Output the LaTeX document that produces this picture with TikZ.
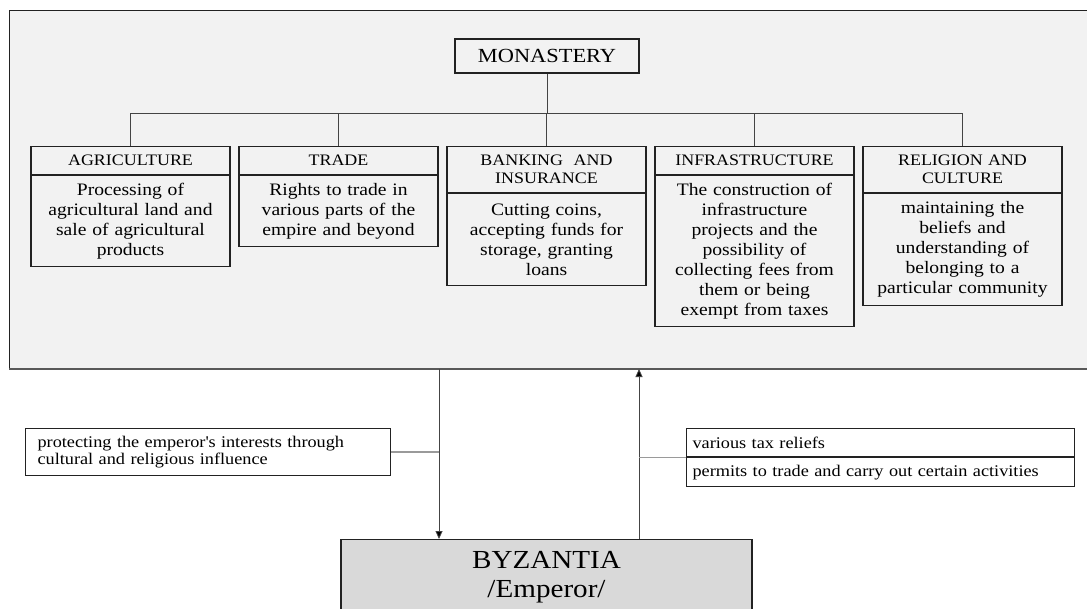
\documentclass[tikz,border=0pt]{standalone}
\usepackage{fontspec}
\setmainfont{Liberation Serif}[FakeStretch=1.12]
\usetikzlibrary{arrows.meta}
\definecolor{panel}{HTML}{F2F2F2}
\definecolor{empfill}{HTML}{D9D9D9}
\definecolor{boxline}{HTML}{222222}
\definecolor{connline}{HTML}{444444}
\definecolor{sideline}{HTML}{9A9A9A}
\begin{document}
\begin{tikzpicture}[x=1pt,y=-1pt,
  boxst/.style={draw=boxline, line width=1.1pt, inner sep=0pt, align=center},
  hdrbox/.style={boxst, anchor=north, minimum width=199pt, text width=190pt,
    font=\fontsize{16}{18.3}\selectfont},
  bodybox/.style={boxst, anchor=north, minimum width=199pt, text width=190pt,
    font=\fontsize{17.5}{20}\selectfont},
  lblbox/.style={boxst, fill=white, anchor=north west, align=left,
    font=\fontsize{16.3}{17}\selectfont},
  conn/.style={draw=connline, line width=0.8pt},
  arr/.style={draw=connline, line width=0.8pt, -{Triangle[length=8pt,width=7pt,fill=black]}},
  sideconn/.style={draw=sideline, line width=1.2pt}
]
\useasboundingbox (0,0) rectangle (1087,608);
\clip (0,0) rectangle (1087,608);
\fill[white] (0,0) rectangle (1087,608);
% main panel
\draw[fill=panel, draw=boxline, line width=1pt] (9,10) rectangle (1095,369);
\draw[draw=black!65, line width=1.8pt] (9,369) -- (1095,369);

% top node
\node[boxst, font=\fontsize{20}{22}\selectfont, minimum width=184pt, minimum height=34pt] (mon) at (547,56) {MONASTERY};

% headers and bodies
\node[hdrbox, minimum height=28pt] (h1) at (130.5,146) {AGRICULTURE};
\node[bodybox, minimum height=91pt] (b1) at (h1.south) {Processing of\\agricultural land and\\sale of agricultural\\products};

\node[hdrbox, minimum height=28pt] (h2) at (338.5,146) {TRADE};
\node[bodybox, minimum height=71pt] (b2) at (h2.south) {Rights to trade in\\various parts of the\\empire and beyond};

\node[hdrbox, minimum height=46pt] (h3) at (546.5,146) {BANKING\ \ AND\\INSURANCE};
\node[bodybox, minimum height=92pt] (b3) at (h3.south) {Cutting coins,\\accepting funds for\\storage, granting\\loans};

\node[hdrbox, minimum height=28pt] (h4) at (754.5,146) {INFRASTRUCTURE};
\node[bodybox, minimum height=151pt] (b4) at (h4.south) {The construction of\\infrastructure\\projects and the\\possibility of\\collecting fees from\\them or being\\exempt from taxes};

\node[hdrbox, minimum height=46pt] (h5) at (962.5,146) {RELIGION AND\\CULTURE};
\node[bodybox, minimum height=112pt] (b5) at (h5.south) {maintaining the\\beliefs and\\understanding of\\belonging to a\\particular community};

% tree connectors
\coordinate (bus) at (547,113);
\draw[conn] (mon.south) -- (bus);
\draw[conn] (h1.north) -- (h1.north |- bus) -- (h5.north |- bus) -- (h5.north);
\draw[conn] (h2.north) -- (h2.north |- bus);
\draw[conn] (h3.north) -- (h3.north |- bus);
\draw[conn] (h4.north) -- (h4.north |- bus);

% emperor box
\node[boxst, fill=empfill, anchor=north, minimum width=411pt, minimum height=75pt,
  font=\fontsize{26}{29}\selectfont] (byz) at (546.5,539) {BYZANTIA\\/Emperor/};

% vertical arrows
\coordinate (dtop) at (439,369);
\coordinate (utop) at (639,369);
\draw[arr] (dtop) -- (dtop |- byz.north);
\draw[arr] (byz.north -| utop) -- (utop);

% side labels
\node[lblbox, minimum width=365pt, minimum height=47pt, text width=341pt, inner xsep=12pt] (l1) at (25,428)
  {protecting the emperor\textquotesingle s interests through\\cultural and religious influence};
\draw[sideconn] (l1.east) -- (l1.east -| dtop);

\node[lblbox, minimum width=388pt, minimum height=28pt, text width=376pt, inner xsep=6pt] (r1) at (686,428)
  {various tax reliefs};
\node[lblbox, minimum width=388pt, minimum height=29pt, text width=376pt, inner xsep=6pt] (r2) at (r1.south west)
  {permits to trade and carry out certain activities};
\draw[sideconn] (r1.south west -| utop) -- (r1.south west);
\end{tikzpicture}
\end{document}
